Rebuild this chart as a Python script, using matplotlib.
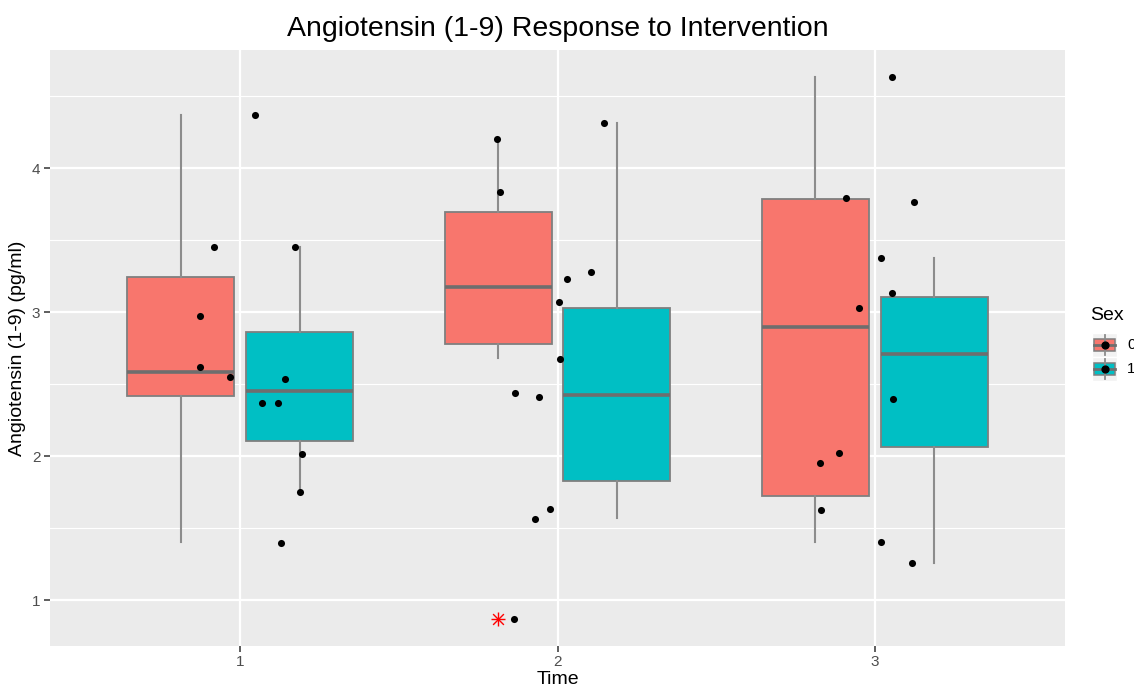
import matplotlib
matplotlib.use("Agg")
import matplotlib.pyplot as plt
from matplotlib.patches import Rectangle
from matplotlib.lines import Line2D
import numpy as np

plt.rcParams['font.family'] = ['Liberation Sans', 'DejaVu Sans']

# ---------------- data ----------------
times = [1, 2, 3]
sexes = ["0", "1"]
colors = {"0": "#F8766D", "1": "#00BFC4"}

# box statistics per sex, per time
whislo = {"0": [1.40, 2.68, 1.40], "1": [1.75, 1.57, 1.255]}
q1     = {"0": [2.415, 2.776, 1.724], "1": [2.102, 1.828, 2.065]}
med    = {"0": [2.585, 3.176, 2.894], "1": [2.453, 2.424, 2.710]}
q3     = {"0": [3.245, 3.692, 3.783], "1": [2.863, 3.030, 3.104]}
whishi = {"0": [4.368, 4.20, 4.63],  "1": [3.453, 4.315, 3.377]}
fliers = {"0": [[], [0.87], []], "1": [[], [], []]}

# jittered raw observations (values and horizontal jitter offsets)
t1_vals = [4.368, 3.453, 3.453, 2.972, 2.618, 2.549, 2.537, 2.366, 2.366, 2.012, 1.752, 1.398]
t1_jit  = [0.047, -0.084, 0.171, -0.126, -0.126, -0.031, 0.140, 0.067, 0.120, 0.193, 0.189, 0.128]
t2_vals = [4.20, 3.831, 4.315, 3.280, 3.227, 3.069, 2.676, 2.435, 2.412, 1.632, 1.563, 0.870]
t2_jit  = [-0.190, -0.182, 0.146, 0.106, 0.031, 0.006, 0.009, -0.133, -0.059, -0.023, -0.071, -0.138]
t3_vals = [4.63, 3.79, 3.766, 3.377, 3.130, 3.026, 2.396, 2.023, 1.951, 1.625, 1.401, 1.255]
t3_jit  = [0.056, -0.090, 0.125, 0.021, 0.054, -0.050, 0.059, -0.114, -0.171, -0.169, 0.021, 0.118]

title = "Angiotensin (1-9) Response to Intervention"
xlabel = "Time"
ylabel = "Angiotensin (1-9) (pg/ml)"
yticks = [1, 2, 3, 4]

# ---------------- figure ----------------
W, H = 1134, 687
fig = plt.figure(figsize=(W / 100, H / 100), dpi=100)
ax = fig.add_axes([50 / W, 1 - 645.7 / H, (1065 - 50) / W, (645.7 - 50) / H])
ax.set_facecolor("#EBEBEB")
for s in ax.spines.values():
    s.set_visible(False)

ax.set_xlim(0.4, 3.6)
ax.set_ylim(0.683, 4.82)
ax.set_yticks(yticks)
ax.set_yticks([1.5, 2.5, 3.5, 4.5], minor=True)
ax.set_xticks(times)
ax.set_xticklabels([str(t) for t in times])
ax.grid(True, which="major", color="white", linewidth=1.6)
ax.grid(True, which="minor", axis="y", color="white", linewidth=0.8)
ax.set_axisbelow(True)
ax.tick_params(axis="both", which="major", length=4, width=1.1, color="#333333",
               labelcolor="#4D4D4D", labelsize=11, pad=3)
ax.tick_params(axis="both", which="minor", length=0)

dodge = 0.1875
bw = 0.3375
edge = "#7F7F7F"
for k, sx in enumerate(sexes):
    off = -dodge if k == 0 else dodge
    stats = []
    for i in range(len(times)):
        stats.append(dict(med=med[sx][i], q1=q1[sx][i], q3=q3[sx][i],
                          whislo=whislo[sx][i], whishi=whishi[sx][i], fliers=[]))
    pos = [t + off for t in times]
    ax.bxp(stats, positions=pos, widths=bw, patch_artist=True, showcaps=False,
           showfliers=False, manage_ticks=False,
           boxprops=dict(facecolor=colors[sx], edgecolor=edge, linewidth=1.3),
           whiskerprops=dict(color="#8C8C8C", linewidth=1.5),
           medianprops=dict(color="#6E6E6E", linewidth=2.6, solid_capstyle="butt"),
           zorder=2)
    for i, t in enumerate(times):
        for v in fliers[sx][i]:
            ax.scatter([t + off], [v], marker="+", s=100, color="#FF0000", linewidths=1.0, zorder=3)
            ax.scatter([t + off], [v], marker="x", s=60, color="#FF0000", linewidths=1.0, zorder=3)

for t, vals, jit in [(1, t1_vals, t1_jit), (2, t2_vals, t2_jit), (3, t3_vals, t3_jit)]:
    ax.scatter([t + j for j in jit], vals, s=26, color="black", zorder=4, linewidths=0)

ax.set_title(title, fontsize=20.5, color="black", pad=10)
ax.set_xlabel(xlabel, fontsize=14, color="black", labelpad=1)
ax.set_ylabel(ylabel, fontsize=14, color="black", labelpad=4)

# ---------------- legend ----------------
fig.text(1090 / W, 1 - 316 / H, "Sex", fontsize=14, ha="left", va="center")
key_h = 24
key_w = 25
kx0 = 1092
ky0 = 333
lax = fig.add_axes([kx0 / W, 1 - (ky0 + 2 * key_h) / H, key_w / W, 2 * key_h / H])
lax.set_xlim(0, key_w)
lax.set_ylim(2 * key_h, 0)
lax.axis("off")
for k, sx in enumerate(sexes):
    y0 = k * key_h
    lax.add_patch(Rectangle((0, y0), key_w, key_h, facecolor="#F2F2F2", edgecolor="white", linewidth=1))
    lax.add_line(Line2D([key_w / 2, key_w / 2], [y0 + 2, y0 + key_h - 2], color="#8C8C8C", linewidth=1.3))
    lax.add_patch(Rectangle((2, y0 + 6), key_w - 4, key_h - 12, facecolor=colors[sx],
                            edgecolor=edge, linewidth=1.1))
    lax.add_line(Line2D([2, key_w - 2], [y0 + key_h / 2, y0 + key_h / 2], color="#6E6E6E", linewidth=2))
    lax.scatter([key_w / 2], [y0 + key_h / 2], s=24, color="black", zorder=5)
    fig.text((kx0 + key_w + 10) / W, 1 - (ky0 + y0 + key_h / 2) / H, sx, fontsize=11,
             ha="left", va="center", color="black")

fig.savefig("out.png", dpi=100)
